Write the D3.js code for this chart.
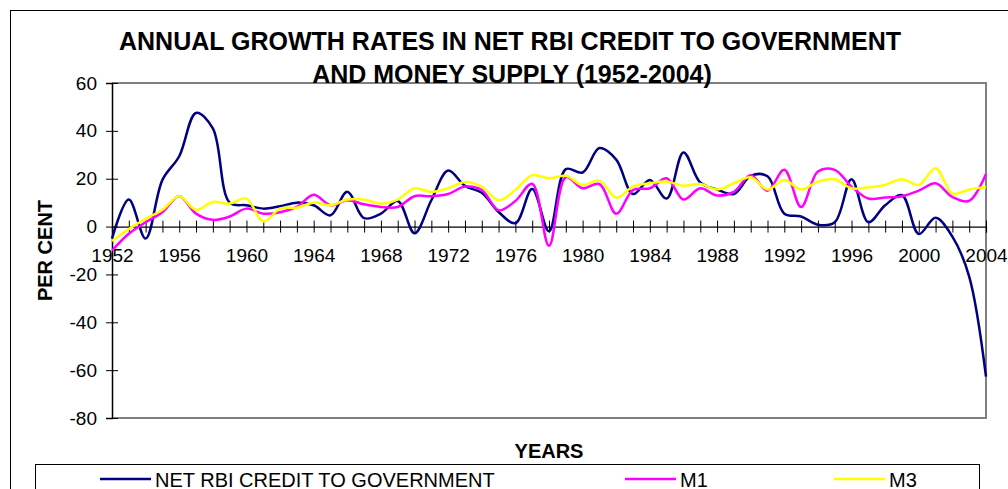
<!DOCTYPE html>
<html lang="en">
<head>
    <meta charset="UTF-8">
    <title>Annual growth rates</title>
    <script src="https://cdn.jsdelivr.net/npm/d3@7"></script>
    <style>
        body { margin: 0; background: #fff; }
        text { font-family: "Liberation Sans", Arial, sans-serif; fill: #000; }
        .title { font-size: 25px; font-weight: bold; }
        .axis-title { font-size: 20px; font-weight: bold; }
        .axis text { font-size: 19px; }
        .legend text { font-size: 20px; }
        path.series { fill: none; stroke-width: 2.5; }
    </style>
</head>
<body>
<script>
    // years 1952-2004
    var years = d3.range(1952, 2005);

    // net RBI credit to government (per cent)
    var netRbi = [-5, 11.3, -5, 19.5, 29.4, 47.5, 41, 10, 8.9, 7.5, 8.5, 10, 8.9,
        4.7, 14.5, 3.5, 5.4, 10.7, -2.8, 11, 23.4, 17, 14.1, 6.1, 1.4, 15.7,
        -2, 24, 22.6, 32.8, 28, 13.6, 19.5, 11.7, 31, 18.4, 15.5, 13.6, 21.2,
        21, 5.4, 4.2, 0.8, 1.8, 19.8, 1.8, 8.9, 13.1, -3.1, 3.7, -4.2, -20.9, -62.7];

    // M1
    var m1 = [-10, -3, 1.8, 6, 12.7, 5.4, 2.8, 4.2, 7.5, 5.4, 6, 8.2, 13.3,
        8.9, 11, 9.3, 8.2, 8.2, 12.7, 12.7, 13.6, 16.7, 15.3, 6.8, 10.7, 17.9,
        -8, 20.6, 16, 17.8, 5.4, 15.3, 16, 20.2, 11.3, 16, 13, 14.5, 21.4,
        15, 23.7, 8.2, 23, 23.7, 16.7, 11.7, 12.1, 12.7, 15, 18.1, 12.4, 10.7, 22];

    // M3
    var m3 = [-6, -1, 3.2, 7, 12.7, 7, 10.3, 9.6, 11.7, 2.1, 7.5, 7.9, 10,
        8.9, 11.3, 11.3, 9.6, 11.3, 16, 14.5, 16, 18.6, 16.7, 11, 15.3, 21.5,
        20.2, 21.2, 17.4, 19.2, 12.1, 16.7, 18.1, 18.8, 17.1, 17.8, 15.5, 18.1, 20.6,
        15.5, 19.5, 15.5, 18.8, 19.8, 16, 16.4, 17.4, 19.8, 17.4, 24.4, 13.8, 15.5, 16.4];

    var yTicks = [60, 40, 20, 0, -20, -40, -60, -80];
    var xLabelYears = d3.range(1952, 2005, 4);

    var seriesNames = ["NET RBI CREDIT TO GOVERNMENT", "M1", "M3"];
    var seriesColors = ["#000080", "#FF00FF", "#FFFF00"];

    var svg = d3.select("body")
        .append("svg")
        .attr("width", 1008).attr("height", 489);

    // outer chart frame
    svg.append("rect")
        .attr("x", 10.5).attr("y", 10.5)
        .attr("width", 1010).attr("height", 500)
        .attr("fill", "#fff").attr("stroke", "#000").attr("stroke-width", 1);

    var plotL = 112, plotR = 986, plotT = 83, plotB = 418;

    var x = d3.scaleLinear().domain([1952, 2004]).range([plotL, plotR]);
    var y = d3.scaleLinear().domain([-80, 60]).range([plotB, plotT]);

    // plot area border (gray)
    svg.append("path")
        .attr("d", "M" + plotL + "," + plotT + "H" + plotR + "V" + plotB + "H" + plotL)
        .attr("fill", "none").attr("stroke", "#808080").attr("stroke-width", 2);

    // y axis (plain hyphen for negatives, like the original)
    var yAxis = svg.append("g")
        .attr("class", "axis")
        .attr("transform", "translate(" + plotL + ",0)")
        .call(d3.axisLeft(y).tickValues(yTicks).tickSize(6).tickPadding(9)
            .tickFormat(function (d) { return String(d); }));
    yAxis.select(".domain").attr("stroke", "#000").attr("stroke-width", 1.5);
    yAxis.selectAll(".tick line").attr("x1", 6).attr("stroke", "#000");
    yAxis.selectAll(".tick text").attr("fill", "#000");

    // x axis on the zero line
    var xAxis = svg.append("g")
        .attr("class", "axis")
        .attr("transform", "translate(0," + y(0) + ")")
        .call(d3.axisBottom(x)
            .tickValues(years)
            .tickSize(6)
            .tickFormat(function (d) { return xLabelYears.indexOf(d) >= 0 ? String(d) : ""; }));
    xAxis.select(".domain").attr("stroke", "#000").attr("stroke-width", 1.2);
    xAxis.selectAll(".tick line").attr("y1", -6).attr("stroke", "#000");
    xAxis.selectAll(".tick text").attr("y", 35).attr("dy", 0).attr("fill", "#000");

    // lines
    var line = d3.line()
        .curve(d3.curveCatmullRom.alpha(0.5))
        .x(function (d, i) { return x(years[i]); })
        .y(function (d) { return y(d); });

    [netRbi, m1, m3].forEach(function (s, i) {
        svg.append("path")
            .attr("class", "series")
            .attr("d", line(s))
            .attr("stroke", seriesColors[i]);
    });

    // titles
    svg.append("text").attr("class", "title")
        .attr("x", 510).attr("y", 50).attr("text-anchor", "middle")
        .text("ANNUAL GROWTH RATES IN NET RBI CREDIT TO GOVERNMENT");
    svg.append("text").attr("class", "title")
        .attr("x", 512).attr("y", 83).attr("text-anchor", "middle")
        .text("AND MONEY SUPPLY (1952-2004)");

    svg.append("text").attr("class", "axis-title")
        .attr("transform", "translate(52," + ((plotT + plotB) / 2) + ") rotate(-90)")
        .attr("text-anchor", "middle")
        .text("PER CENT");

    svg.append("text").attr("class", "axis-title")
        .attr("x", (plotL + plotR) / 2).attr("y", 458).attr("text-anchor", "middle")
        .text("YEARS");

    // legend
    var legend = svg.append("g").attr("class", "legend");
    legend.append("rect")
        .attr("x", 35.5).attr("y", 464.5)
        .attr("width", 944).attr("height", 60)
        .attr("fill", "#fff").attr("stroke", "#000").attr("stroke-width", 1);

    var legendX = [100, 625, 834];
    seriesNames.forEach(function (name, i) {
        legend.append("line")
            .attr("x1", legendX[i]).attr("x2", legendX[i] + 51)
            .attr("y1", 479).attr("y2", 479)
            .attr("stroke", seriesColors[i]).attr("stroke-width", 2.5);
        legend.append("text")
            .attr("x", legendX[i] + 55).attr("y", 487)
            .text(name);
    });
</script>
</body>
</html>
